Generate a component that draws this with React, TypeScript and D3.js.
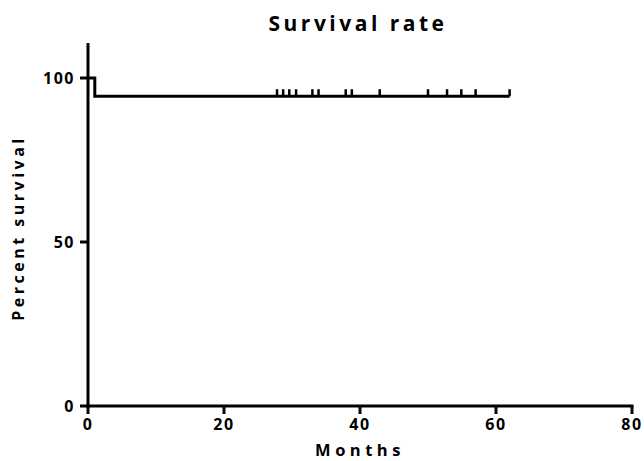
import React, { useEffect, useRef } from 'react';
import * as d3 from 'd3';

// Kaplan-Meier steps (months, percent surviving)
const stepMonths = [0, 1, 62];
const stepSurvival = [100, 94.44, 94.44];
// censored observations (months)
const censorMonths = [27.8, 28.7, 29.6, 30.6, 33.0, 33.9, 37.9, 38.8, 42.9, 50.0, 52.8, 54.9, 57.0, 62.0];
const xTicks = [0, 20, 40, 60, 80];
const yTicks = [0, 50, 100];

const width = 644;
const height = 461;
const font = "'Open Sans', 'Lato', sans-serif";

function SurvivalChart() {
  const ref = useRef<SVGSVGElement>(null);

  useEffect(() => {
    const svg = d3.select(ref.current);
    svg.selectAll('*').remove();

    const x = d3.scaleLinear().domain([0, 80]).range([88, 632]);
    const y = d3.scaleLinear().domain([0, 100]).range([406, 78]);

    // axes
    const g = svg.append('g');
    g.append('line')
      .attr('x1', x(0)).attr('x2', x(0))
      .attr('y1', 43).attr('y2', y(0) + 1.5)
      .attr('stroke', '#000').attr('stroke-width', 3);
    g.append('line')
      .attr('x1', x(0) - 1.5).attr('x2', x(80) + 1.5)
      .attr('y1', y(0)).attr('y2', y(0))
      .attr('stroke', '#000').attr('stroke-width', 3);

    g.selectAll('.yt')
      .data(yTicks)
      .enter().append('line')
      .attr('x1', x(0) - 8).attr('x2', x(0))
      .attr('y1', d => y(d)).attr('y2', d => y(d))
      .attr('stroke', '#000').attr('stroke-width', 3);
    g.selectAll('.yl')
      .data(yTicks)
      .enter().append('text')
      .attr('x', x(0) - 13)
      .attr('y', d => y(d))
      .attr('dy', '0.36em')
      .attr('text-anchor', 'end')
      .style('font-family', font).style('font-weight', 700).style('font-size', '16px')
      .style('letter-spacing', '1.5px')
      .text(d => d);

    g.selectAll('.xt')
      .data(xTicks)
      .enter().append('line')
      .attr('x1', d => x(d)).attr('x2', d => x(d))
      .attr('y1', y(0)).attr('y2', y(0) + 8)
      .attr('stroke', '#000').attr('stroke-width', 3);
    g.selectAll('.xl')
      .data(xTicks)
      .enter().append('text')
      .attr('x', d => x(d))
      .attr('y', 430)
      .attr('text-anchor', 'middle')
      .style('font-family', font).style('font-weight', 700).style('font-size', '16px')
      .style('letter-spacing', '1.5px')
      .text(d => d);

    // survival curve
    const pts = stepMonths.map((m, i) => [m, stepSurvival[i]] as [number, number]);
    const line = d3.line<[number, number]>()
      .x(d => x(d[0]))
      .y(d => y(d[1]))
      .curve(d3.curveStepAfter);
    svg.append('path')
      .datum(pts)
      .attr('fill', 'none')
      .attr('stroke', '#000')
      .attr('stroke-width', 3)
      .attr('d', line);

    // censor marks
    svg.selectAll('.cens')
      .data(censorMonths)
      .enter().append('line')
      .attr('x1', d => x(d)).attr('x2', d => x(d))
      .attr('y1', y(94.44)).attr('y2', y(94.44) - 7)
      .attr('stroke', '#000').attr('stroke-width', 2.5);

    // labels
    svg.append('text')
      .attr('x', 358).attr('y', 31)
      .attr('text-anchor', 'middle')
      .style('font-family', font).style('font-weight', 700).style('font-size', '21px')
      .style('letter-spacing', '3.5px')
      .text('Survival rate');
    svg.append('text')
      .attr('x', 360).attr('y', 456)
      .attr('text-anchor', 'middle')
      .style('font-family', font).style('font-weight', 700).style('font-size', '16.5px')
      .style('letter-spacing', '4.5px')
      .text('Months');
    svg.append('text')
      .attr('transform', 'translate(24,228) rotate(-90)')
      .attr('text-anchor', 'middle')
      .style('font-family', font).style('font-weight', 700).style('font-size', '16px')
      .style('letter-spacing', '3.5px')
      .text('Percent survival');
  }, []);

  return <svg ref={ref} width={width} height={height} style={{ display: 'block' }} />;
}

export default function App() {
  return (
    <div style={{ position: 'absolute', left: 0, top: 0, background: '#fff' }}>
      <SurvivalChart />
    </div>
  );
}
